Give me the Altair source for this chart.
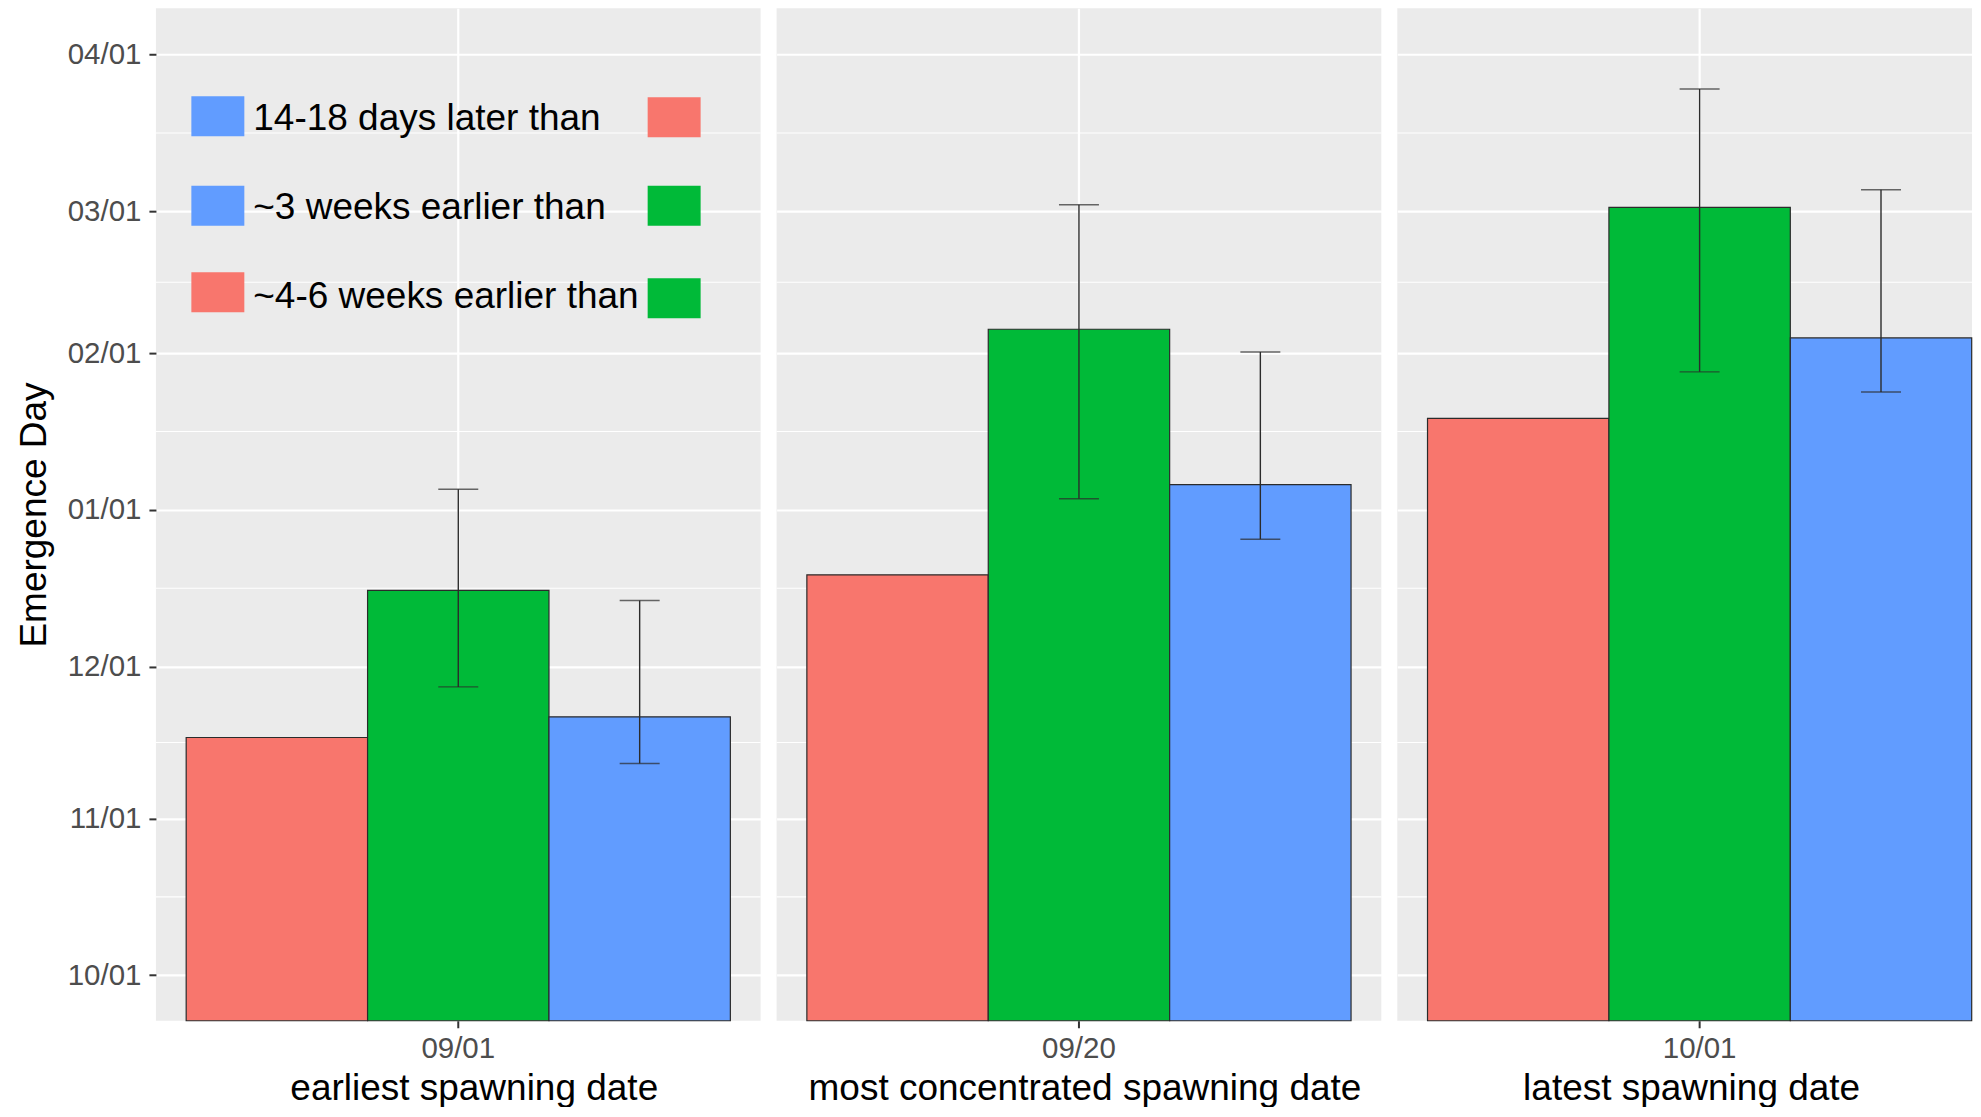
import altair as alt
import pandas as pd

# ---------------- data ----------------
SPAWN_DATES = ["09/01", "09/20", "10/01"]
PANEL_TITLES = ["earliest spawning date", "most concentrated spawning date", "latest spawning date"]
GROUPS = ["red", "green", "blue"]
GROUP_COLORS = ["#F8766D", "#00BA38", "#619CFF"]

# emergence day (bar top) for red, green, blue at each spawning date
EMERGENCE_0901 = ["2014-11-17T00:00:00Z", "2014-12-16T02:00:00Z", "2014-11-21T02:00:00Z"]
EMERGENCE_0920 = ["2014-12-19T04:00:00Z", "2015-02-05T17:00:00Z", "2015-01-06T00:00:00Z"]
EMERGENCE_1001 = ["2015-01-19T02:00:00Z", "2015-03-01T19:00:00Z", "2015-02-04T00:00:00Z"]
# error bar limits (red has none)
ERR_LOW_0901 = [None, "2014-11-27T00:00:00Z", "2014-11-11T21:00:00Z"]
ERR_HIGH_0901 = [None, "2015-01-05T02:00:00Z", "2014-12-14T02:00:00Z"]
ERR_LOW_0920 = [None, "2015-01-03T05:00:00Z", "2014-12-26T05:00:00Z"]
ERR_HIGH_0920 = [None, "2015-03-02T08:00:00Z", "2015-02-01T05:00:00Z"]
ERR_LOW_1001 = [None, "2015-01-28T07:00:00Z", "2015-01-24T07:00:00Z"]
ERR_HIGH_1001 = [None, "2015-03-25T05:00:00Z", "2015-03-05T07:00:00Z"]

Y_TICKS = ["2014-10-01", "2014-11-01", "2014-12-01", "2015-01-01",
           "2015-02-01", "2015-03-01", "2015-04-01"]
MINOR_BREAKS = ["2014-10-16T12:00:00Z", "2014-11-16T00:00:00Z", "2014-12-16T12:00:00Z",
                "2015-01-16T12:00:00Z", "2015-02-15T00:00:00Z", "2015-03-16T12:00:00Z"]
Y_DOMAIN = ["2014-09-22T00:00:00Z", "2015-04-10T04:00:00Z"]

LEGEND_TEXT = ["14-18 days later than", "~3 weeks earlier than", "~4-6 weeks earlier than"]
LEGEND_LEFT = ["blue", "blue", "red"]
LEGEND_RIGHT = ["red", "green", "green"]

# ---------------- layout / style ----------------
FONT = "Liberation Sans"
PANEL_W = [605, 605, 575]            # last panel is cut by the page edge
BAND_PAD = [0.0556, 0.0556, 0.028]   # outer padding of the band per panel
BAND_ALIGN = [0.5, 0.5, 0.9918]
PANEL_H = 1013
TITLE_X = [318, 308, 294]            # x-title centres inside each panel
LEG_ROW_Y = [108, 287]               # pixel range of legend rows in panel 1
LEG_LEFT_DY = [0, 0, -3]             # small per-row nudges of the key squares
LEG_RIGHT_DY = [1, 0, 3]
LEG_X = {"left": 0.1024, "text": 0.161, "right": 0.857}
RECT_PATH = "M-1,-0.755L1,-0.755L1,0.755L-1,0.755Z"
INK = "#2b2b2b"


def ms(s):
    t = pd.Timestamp(s)
    t = t.tz_convert("UTC") if t.tzinfo else t.tz_localize("UTC")
    return int(t.value // 10**6)


Y_DOM_MS = [ms(v) for v in Y_DOMAIN]
Y_TICK_MS = [ms(v) for v in Y_TICKS]
color_of = dict(zip(GROUPS, GROUP_COLORS))

emerg = [EMERGENCE_0901, EMERGENCE_0920, EMERGENCE_1001]
lows = [ERR_LOW_0901, ERR_LOW_0920, ERR_LOW_1001]
highs = [ERR_HIGH_0901, ERR_HIGH_0920, ERR_HIGH_1001]
rows = []
for si, sd in enumerate(SPAWN_DATES):
    for gi, g in enumerate(GROUPS):
        rows.append({"spawn": sd, "group": g, "emerge": emerg[si][gi],
                     "lo": lows[si][gi], "hi": highs[si][gi]})
df = pd.DataFrame(rows)
minor_df = pd.DataFrame({"d": MINOR_BREAKS})
legend_df = pd.DataFrame({
    "row": [0, 1, 2],
    "text": LEGEND_TEXT,
    "lcol": [color_of[c] for c in LEGEND_LEFT],
    "rcol": [color_of[c] for c in LEGEND_RIGHT],
    "ldy": LEG_LEFT_DY,
    "rdy": LEG_RIGHT_DY,
})


def yscale():
    return alt.Scale(type="utc", domain=Y_DOM_MS)


def panel(i):
    sub = df[df["spawn"] == SPAWN_DATES[i]]
    if i == 0:
        yaxis = alt.Axis(title="Emergence Day", values=Y_TICK_MS,
                         labelExpr="utcFormat(datum.value, '%m/%d')",
                         grid=True)
    else:
        yaxis = alt.Axis(title=None, values=Y_TICK_MS, labels=False, ticks=False,
                         grid=True)
    xscale = alt.Scale(domain=[SPAWN_DATES[i]], paddingInner=0,
                       paddingOuter=BAND_PAD[i], align=BAND_ALIGN[i])
    xaxis = alt.Axis(title=PANEL_TITLES[i], grid=True, bandPosition=0.5, labelAngle=0,
                     titleX=TITLE_X[i])
    xoff = alt.XOffset("group:N", sort=GROUPS,
                       scale=alt.Scale(domain=GROUPS, paddingInner=0, paddingOuter=0))

    minor = alt.Chart(minor_df).mark_rule(color="white", strokeWidth=1.1).encode(
        y=alt.Y("d:T", scale=yscale(), axis=yaxis)
    )
    base = alt.Chart(sub)
    bars = base.mark_bar(stroke=INK, strokeWidth=1.2).encode(
        x=alt.X("spawn:N", scale=xscale, axis=xaxis),
        xOffset=xoff,
        y=alt.Y("emerge:T", scale=yscale()),
        y2=alt.Y2(datum=Y_DOM_MS[0]),
        color=alt.Color("group:N", scale=alt.Scale(domain=GROUPS, range=GROUP_COLORS), legend=None),
    )
    errb = base.transform_filter("datum.lo != null")
    err = errb.mark_rule(color=INK, strokeWidth=1.4).encode(
        x=alt.X("spawn:N", scale=xscale), xOffset=xoff,
        y=alt.Y("lo:T", scale=yscale()), y2="hi:T",
    )
    cap_lo = errb.mark_tick(color=INK, thickness=1.4, size=40, orient="horizontal").encode(
        x=alt.X("spawn:N", scale=xscale), xOffset=xoff,
        y=alt.Y("lo:T", scale=yscale()),
    )
    cap_hi = errb.mark_tick(color=INK, thickness=1.4, size=40, orient="horizontal").encode(
        x=alt.X("spawn:N", scale=xscale), xOffset=xoff,
        y=alt.Y("hi:T", scale=yscale()),
    )
    main = alt.layer(minor, bars, err, cap_lo, cap_hi)
    w = PANEL_W[i]

    if i != 0:
        return main.properties(width=w, height=PANEL_H)

    lb = alt.Chart(legend_df)
    ly = alt.Y("row:O", axis=None,
               scale=alt.Scale(type="point", domain=[0, 1, 2], range=LEG_ROW_Y, padding=0))
    lxs = alt.Scale(domain=[0, 1])
    sq_l = lb.mark_point(shape=RECT_PATH, filled=True, size=2809, opacity=1, strokeWidth=0).encode(
        x=alt.X(datum=LEG_X["left"], type="quantitative", scale=lxs, axis=None),
        y=ly, yOffset=alt.YOffset("ldy:Q", scale=None),
        color=alt.Color("lcol:N", scale=None),
    )
    sq_r = lb.mark_point(shape=RECT_PATH, filled=True, size=2809, opacity=1, strokeWidth=0).encode(
        x=alt.X(datum=LEG_X["right"], type="quantitative", scale=lxs, axis=None),
        y=ly, yOffset=alt.YOffset("rdy:Q", scale=None),
        color=alt.Color("rcol:N", scale=None),
    )
    txt = lb.mark_text(align="left", baseline="alphabetic", fontSize=37, font=FONT,
                       color="black", dy=13.3).encode(
        x=alt.X(datum=LEG_X["text"], type="quantitative", scale=lxs, axis=None),
        y=ly, text="text:N",
    )
    legend = alt.layer(sq_l, txt, sq_r)
    return alt.layer(main, legend).resolve_scale(x="independent", y="independent").properties(
        width=w, height=PANEL_H)


chart = alt.hconcat(panel(0), panel(1), panel(2), spacing=14).properties(
    padding={"left": 7, "top": 0, "right": 0, "bottom": 0},
    background="white",
).configure(font=FONT).configure_axis(
    labelFont=FONT, titleFont=FONT,
    labelFontSize=29.5, labelColor="#4D4D4D",
    titleFontSize=37, titleFontWeight="normal", titleColor="black",
    tickColor="#333333", tickWidth=2, tickSize=7,
    domain=False, gridColor="white", gridWidth=2.2,
).configure_axisY(labelPadding=8, titlePadding=14).configure_axisX(
    labelPadding=7, titlePadding=7
).configure_view(
    fill="#EBEBEB", strokeWidth=0
)

chart.save("out.html", embed_options={"renderer": "svg", "actions": False})
